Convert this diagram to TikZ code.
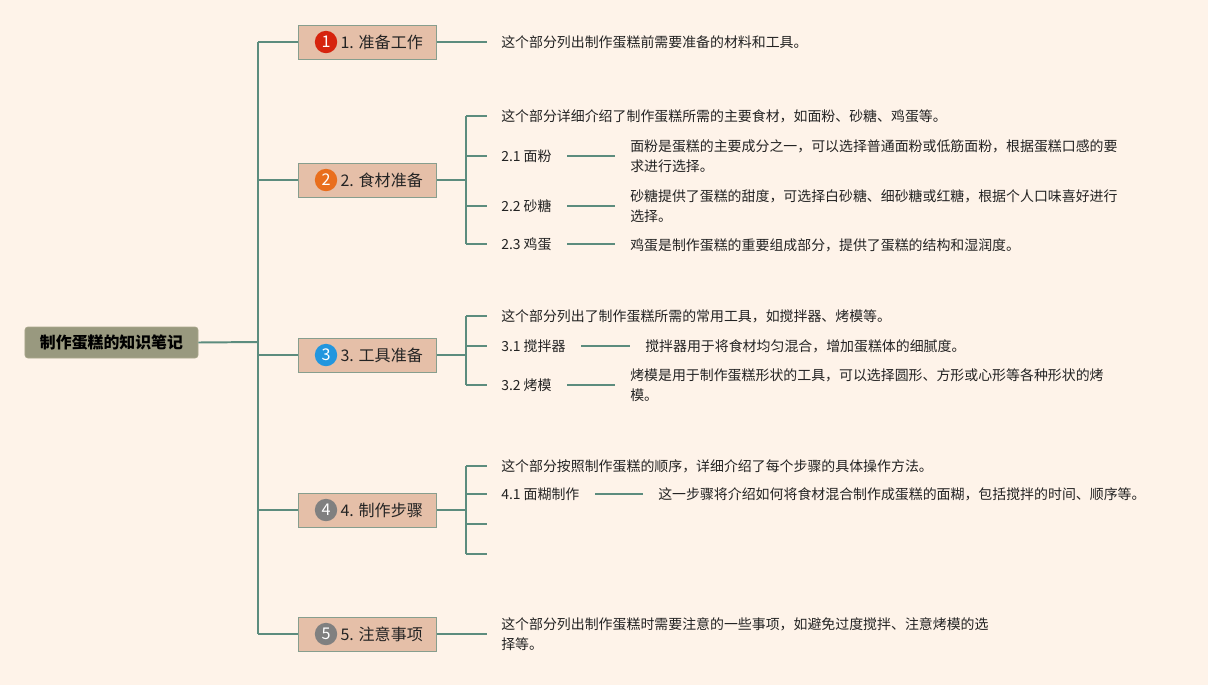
\documentclass[tikz,border=0pt]{standalone}
\usepackage{fontspec}
\setmainfont{Noto Sans CJK SC}
\usetikzlibrary{positioning}
\definecolor{bgcream}{RGB}{254,243,233}
\definecolor{rootfill}{RGB}{153,153,127}
\definecolor{rootline}{RGB}{170,168,140}
\definecolor{topicfill}{RGB}{229,191,168}
\definecolor{topicline}{RGB}{135,158,142}
\definecolor{branch}{RGB}{92,140,126}
\definecolor{ink}{RGB}{35,35,35}
\definecolor{numred}{RGB}{214,36,14}
\definecolor{numorange}{RGB}{233,110,28}
\definecolor{numblue}{RGB}{34,150,222}
\definecolor{numgray}{RGB}{128,128,128}

\begin{document}
\begin{tikzpicture}[
    x=0.025cm, y=-0.025cm,
    link/.style={draw=branch, line width=1.4pt},
    root/.style={draw=rootline, fill=rootfill, rounded corners=2pt, minimum width=4.325cm, minimum height=0.775cm, font=\fontsize{11.3}{12}\selectfont\bfseries, text=black},
    topic/.style={draw=topicline, fill=topicfill, line width=0.7pt, minimum width=3.425cm, minimum height=0.85cm},
    num/.style={circle, inner sep=0pt, minimum size=0.56cm, text=white, font=\fontsize{11.5}{12}\selectfont},
    title/.style={inner sep=0pt, font=\fontsize{11.4}{12}\selectfont, text=ink},
    note/.style={anchor=west, inner sep=0pt, align=left, font=\fontsize{9.9}{14.2}\selectfont, text=ink}
  ]
  \fill[bgcream] (0,0) rectangle (1208,685);
  \useasboundingbox (0,0) rectangle (1208,685);

  % root and trunk
  \node[root] (root) at (111.5,342.5) {制作蛋糕的知识笔记};
  \coordinate (trunk) at (258,342);

  % main topics
  \node[topic] (t1) at (367.5,42) {};
  \node[topic] (t2) at (367.5,180) {};
  \node[topic] (t3) at (367.5,355) {};
  \node[topic] (t4) at (367.5,510) {};
  \node[topic] (t5) at (367.5,634) {};
  \node[num, fill=numred] (n1) at (326,42) {1};
  \node[num, fill=numorange] (n2) at (326,180) {2};
  \node[num, fill=numblue] (n3) at (326,355) {3};
  \node[num, fill=numgray] (n4) at (326,510) {4};
  \node[num, fill=numgray] (n5) at (326,634) {5};
  \node[title, right=2pt of n1] (h1) {1. 准备工作};
  \node[title, right=2pt of n2] (h2) {2. 食材准备};
  \node[title, right=2pt of n3] (h3) {3. 工具准备};
  \node[title, right=2pt of n4] (h4) {4. 制作步骤};
  \node[title, right=2pt of n5] (h5) {5. 注意事项};

  \draw[link] (root.east) -- (trunk);
  \draw[link] (trunk |- t1) -- (trunk |- t5);
  \foreach \t in {t1,t2,t3,t4,t5}
    \draw[link] (trunk |- \t) -- (\t.west);

  % 1
  \node[note] (d1) at (501,42) {这个部分列出制作蛋糕前需要准备的材料和工具。};
  \draw[link, shorten >=10pt] (t1.east) -- (d1.west);

  % 2
  \coordinate (s2) at (466,180);
  \node[note] (d20) at (501,116) {这个部分详细介绍了制作蛋糕所需的主要食材，如面粉、砂糖、鸡蛋等。};
  \node[note] (l21) at (501,156) {2.1 面粉};
  \node[note] (l22) at (501,206) {2.2 砂糖};
  \node[note] (l23) at (501,244) {2.3 鸡蛋};
  \node[note] (d21) at (630,156) {面粉是蛋糕的主要成分之一，可以选择普通面粉或低筋面粉，根据蛋糕口感的要\\求进行选择。};
  \node[note] (d22) at (630,206) {砂糖提供了蛋糕的甜度，可选择白砂糖、细砂糖或红糖，根据个人口味喜好进行\\选择。};
  \node[note] (d23) at (630,245) {鸡蛋是制作蛋糕的重要组成部分，提供了蛋糕的结构和湿润度。};
  \draw[link] (t2.east) -- (s2);
  \draw[link] (s2 |- d20) -- (s2 |- l23);
  \foreach \n in {d20,l21,l22,l23}
    \draw[link, shorten >=10pt] (s2 |- \n) -- (\n.west);
  \draw[link, shorten <=11pt, shorten >=11pt] (l21.east) -- (l21.east -| d21.west);
  \draw[link, shorten <=11pt, shorten >=11pt] (l22.east) -- (l22.east -| d22.west);
  \draw[link, shorten <=11pt, shorten >=11pt] (l23.east) -- (l23.east -| d23.west);

  % 3
  \coordinate (s3) at (466,355);
  \node[note] (d30) at (501,316) {这个部分列出了制作蛋糕所需的常用工具，如搅拌器、烤模等。};
  \node[note] (l31) at (501,346) {3.1 搅拌器};
  \node[note] (l32) at (501,385) {3.2 烤模};
  \node[note] (d31) at (645,346) {搅拌器用于将食材均匀混合，增加蛋糕体的细腻度。};
  \node[note] (d32) at (630,385) {烤模是用于制作蛋糕形状的工具，可以选择圆形、方形或心形等各种形状的烤\\模。};
  \draw[link] (t3.east) -- (s3);
  \draw[link] (s3 |- d30) -- (s3 |- l32);
  \foreach \n in {d30,l31,l32}
    \draw[link, shorten >=10pt] (s3 |- \n) -- (\n.west);
  \draw[link, shorten <=11pt, shorten >=11pt] (l31.east) -- (d31.west);
  \draw[link, shorten <=11pt, shorten >=11pt] (l32.east) -- (l32.east -| d32.west);

  % 4
  \coordinate (s4) at (466,510);
  \coordinate (e4a) at (487,524);
  \coordinate (e4b) at (487,554);
  \node[note] (d40) at (501,466) {这个部分按照制作蛋糕的顺序，详细介绍了每个步骤的具体操作方法。};
  \node[note] (l41) at (501,494) {4.1 面糊制作};
  \node[note] (d41) at (658,494) {这一步骤将介绍如何将食材混合制作成蛋糕的面糊，包括搅拌的时间、顺序等。};
  \draw[link] (t4.east) -- (s4);
  \draw[link] (s4 |- d40) -- (s4 |- e4b);
  \foreach \n in {d40,l41}
    \draw[link, shorten >=10pt] (s4 |- \n) -- (\n.west);
  \draw[link] (s4 |- e4a) -- (e4a);
  \draw[link] (s4 |- e4b) -- (e4b);
  \draw[link, shorten <=11pt, shorten >=11pt] (l41.east) -- (d41.west);

  % 5
  \node[note] (d5) at (501,634) {这个部分列出制作蛋糕时需要注意的一些事项，如避免过度搅拌、注意烤模的选\\择等。};
  \draw[link, shorten >=10pt] (t5.east) -- (t5.east -| d5.west);
\end{tikzpicture}
\end{document}
